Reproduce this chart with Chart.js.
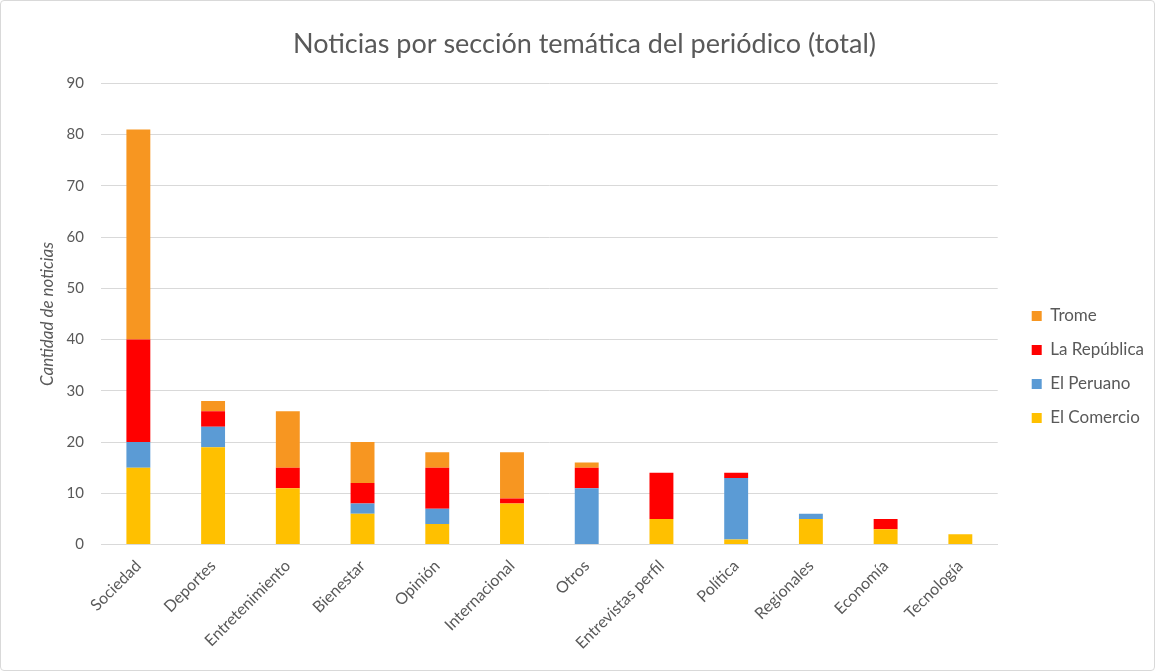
<!DOCTYPE html>
<html>
<head>
<meta charset="utf-8">
<script src="https://cdn.jsdelivr.net/npm/chart.js@4.4.1/dist/chart.umd.min.js"></script>
<style>
  html, body { margin: 0; padding: 0; background: #fff; }
  .chart-wrap { position: relative; width: 1155px; height: 671px; box-sizing: border-box; border: 1px solid #d9d9d9; border-radius: 4px; }
</style>
</head>
<body>
<div class="chart-wrap"><canvas id="chart"></canvas></div>
<script>
// ── Data ───────────────────────────────
const categories = ['Sociedad', 'Deportes', 'Entretenimiento', 'Bienestar', 'Opinión', 'Internacional',
  'Otros', 'Entrevistas perfil', 'Política', 'Regionales', 'Economía', 'Tecnología'];
const elComercio  = [15, 19, 11, 6, 4, 8, 0, 5, 1, 5, 3, 2];
const elPeruano   = [5, 4, 0, 2, 3, 0, 11, 0, 12, 1, 0, 0];
const laRepublica = [20, 3, 4, 4, 8, 1, 4, 9, 1, 0, 2, 0];
const trome       = [41, 2, 11, 8, 3, 9, 1, 0, 0, 0, 0, 0];
const yTicks = { min: 0, max: 90, step: 10 };

const C = {
  comercio: '#FFC000',
  peruano: '#5B9BD5',
  republica: '#FF0000',
  trome: '#F79621',
  text: '#595959',
  grid: '#d9d9d9',
  font: 'Lato, "Open Sans", sans-serif',
};
Chart.defaults.font.family = C.font;
Chart.defaults.color = C.text;

const ds = (label, data, color) => ({
  label, data, backgroundColor: color, borderWidth: 0,
  barPercentage: 0.32, categoryPercentage: 1,
});

new Chart(document.getElementById('chart'), {
  type: 'bar',
  data: {
    labels: categories,
    datasets: [
      ds('El Comercio', elComercio, C.comercio),
      ds('El Peruano', elPeruano, C.peruano),
      ds('La República', laRepublica, C.republica),
      ds('Trome', trome, C.trome),
    ]
  },
  options: {
    responsive: true, maintainAspectRatio: false, animation: false,
    layout: { padding: { left: 14, right: 0, top: 6, bottom: 13 } },
    plugins: {
      title: {
        display: true, text: 'Noticias por sección temática del periódico (total)',
        color: C.text, font: { size: 27, weight: 'normal' }, padding: { top: 21, bottom: 23 }
      },
      legend: {
        position: 'right', reverse: true,
        // blank legend title just pushes the items down a bit
        title: { display: true, text: ' ', font: { size: 10 }, padding: 29 },
        labels: { boxWidth: 10, boxHeight: 10, padding: 17, color: C.text, font: { size: 17 } }
      },
      tooltip: { enabled: false }
    },
    scales: {
      x: {
        stacked: true,
        grid: { display: false },
        border: { color: C.grid, width: 1 },
        ticks: { minRotation: 45, maxRotation: 45, color: C.text, font: { size: 16 }, padding: 4 }
      },
      y: {
        stacked: true, min: yTicks.min, max: yTicks.max,
        grid: { color: C.grid, drawTicks: false },
        border: { display: false },
        ticks: { stepSize: yTicks.step, color: C.text, font: { size: 15 }, padding: 17 },
        title: { display: true, text: 'Cantidad de noticias', color: C.text, font: { size: 17, style: 'italic' }, padding: { top: 22, bottom: 0 } },
        afterFit: s => { s.width = 86; }
      },
      gap: {
        type: 'linear', position: 'right', display: true,
        grid: { display: false }, border: { display: false }, ticks: { display: false },
        afterFit: s => { s.width = 17; }
      }
    }
  }
});
</script>
</body>
</html>
